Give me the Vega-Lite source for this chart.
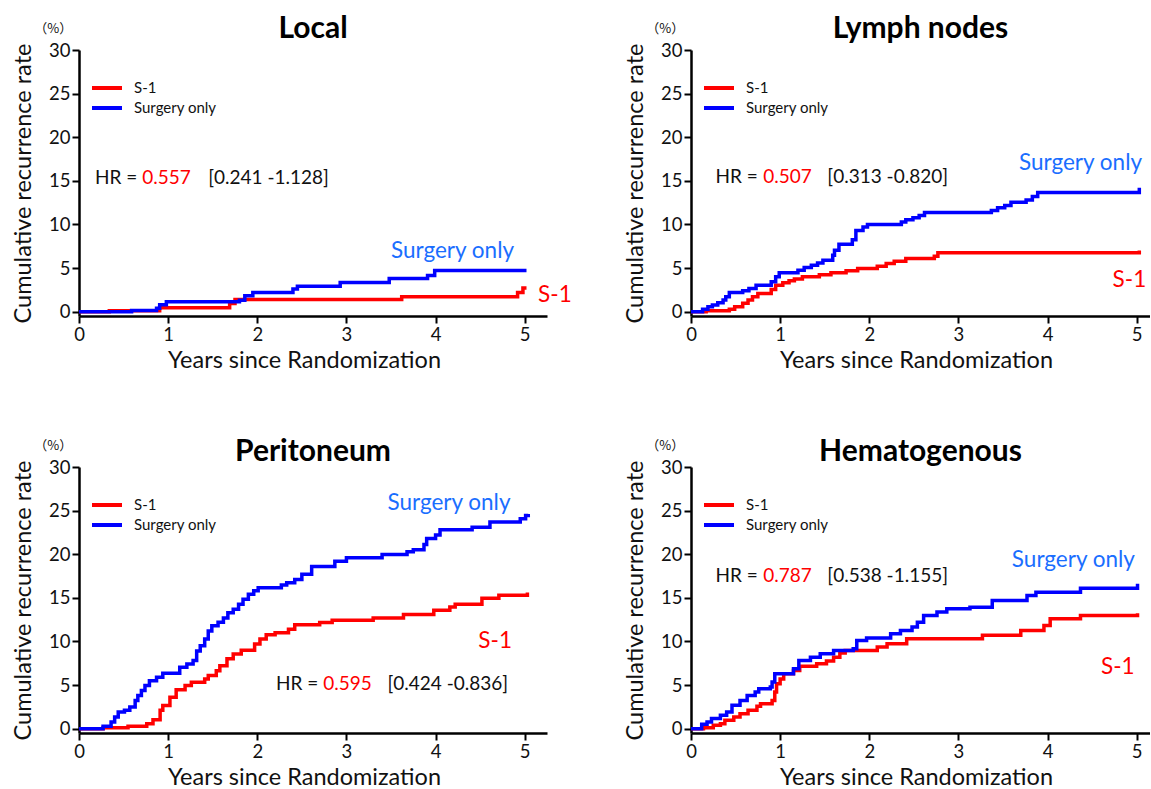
{
  "$schema": "https://vega.github.io/schema/vega-lite/v6.json",
  "background": "white",
  "padding": {"left": 11, "top": 14, "right": 0, "bottom": 0},
  "bounds": "flush",
  "columns": 2,
  "spacing": {"row": 151, "column": 144},
  "resolve": {"scale": {"color": "shared"}, "legend": {"color": "independent"}},
  "datasets": {
    "local": [
      {"g": "S-1", "t": 0, "r": 0}, {"g": "S-1", "t": 0.34, "r": 0.1}, {"g": "S-1", "t": 0.905, "r": 0.46}, {"g": "S-1", "t": 1.69, "r": 0.93}, {"g": "S-1", "t": 1.75, "r": 1.4}, {"g": "S-1", "t": 3.62, "r": 1.7}, {"g": "S-1", "t": 4.92, "r": 2.2}, {"g": "S-1", "t": 4.98, "r": 2.7}, {"g": "S-1", "t": 5.02, "r": 2.7},
      {"g": "Surgery only", "t": 0, "r": 0}, {"g": "Surgery only", "t": 0.59, "r": 0.12}, {"g": "Surgery only", "t": 0.87, "r": 0.4}, {"g": "Surgery only", "t": 0.905, "r": 0.78}, {"g": "Surgery only", "t": 0.98, "r": 1.12}, {"g": "Surgery only", "t": 1.8, "r": 1.3}, {"g": "Surgery only", "t": 1.86, "r": 1.82}, {"g": "Surgery only", "t": 1.95, "r": 2.2}, {"g": "Surgery only", "t": 2.4, "r": 2.6}, {"g": "Surgery only", "t": 2.45, "r": 2.9}, {"g": "Surgery only", "t": 2.93, "r": 3.33}, {"g": "Surgery only", "t": 3.48, "r": 3.8}, {"g": "Surgery only", "t": 3.91, "r": 4.15}, {"g": "Surgery only", "t": 3.99, "r": 4.73}, {"g": "Surgery only", "t": 5.02, "r": 4.73}
    ],
    "lymph": [
      {"g": "S-1", "t": 0, "r": 0}, {"g": "S-1", "t": 0.17, "r": 0.1}, {"g": "S-1", "t": 0.43, "r": 0.27}, {"g": "S-1", "t": 0.49, "r": 0.57}, {"g": "S-1", "t": 0.58, "r": 0.95}, {"g": "S-1", "t": 0.64, "r": 1.33}, {"g": "S-1", "t": 0.69, "r": 1.71}, {"g": "S-1", "t": 0.75, "r": 2.09}, {"g": "S-1", "t": 0.9, "r": 2.55}, {"g": "S-1", "t": 0.95, "r": 3.04}, {"g": "S-1", "t": 1.03, "r": 3.3}, {"g": "S-1", "t": 1.1, "r": 3.54}, {"g": "S-1", "t": 1.16, "r": 3.73}, {"g": "S-1", "t": 1.25, "r": 4.0}, {"g": "S-1", "t": 1.44, "r": 4.22}, {"g": "S-1", "t": 1.57, "r": 4.45}, {"g": "S-1", "t": 1.74, "r": 4.68}, {"g": "S-1", "t": 1.87, "r": 4.94}, {"g": "S-1", "t": 2.09, "r": 5.2}, {"g": "S-1", "t": 2.19, "r": 5.51}, {"g": "S-1", "t": 2.28, "r": 5.78}, {"g": "S-1", "t": 2.41, "r": 6.08}, {"g": "S-1", "t": 2.73, "r": 6.35}, {"g": "S-1", "t": 2.77, "r": 6.75}, {"g": "S-1", "t": 5.02, "r": 6.75}, {"g": "S-1", "t": 5.03, "r": 7.0},
      {"g": "Surgery only", "t": 0, "r": 0}, {"g": "Surgery only", "t": 0.13, "r": 0.27}, {"g": "Surgery only", "t": 0.19, "r": 0.57}, {"g": "Surgery only", "t": 0.24, "r": 0.76}, {"g": "Surgery only", "t": 0.3, "r": 1.03}, {"g": "Surgery only", "t": 0.36, "r": 1.33}, {"g": "Surgery only", "t": 0.39, "r": 1.71}, {"g": "Surgery only", "t": 0.43, "r": 2.2}, {"g": "Surgery only", "t": 0.58, "r": 2.4}, {"g": "Surgery only", "t": 0.65, "r": 2.66}, {"g": "Surgery only", "t": 0.73, "r": 3.04}, {"g": "Surgery only", "t": 0.9, "r": 3.42}, {"g": "Surgery only", "t": 0.95, "r": 4.0}, {"g": "Surgery only", "t": 0.99, "r": 4.45}, {"g": "Surgery only", "t": 1.2, "r": 4.75}, {"g": "Surgery only", "t": 1.27, "r": 5.06}, {"g": "Surgery only", "t": 1.35, "r": 5.32}, {"g": "Surgery only", "t": 1.42, "r": 5.59}, {"g": "Surgery only", "t": 1.48, "r": 5.89}, {"g": "Surgery only", "t": 1.59, "r": 6.46}, {"g": "Surgery only", "t": 1.61, "r": 7.03}, {"g": "Surgery only", "t": 1.66, "r": 7.72}, {"g": "Surgery only", "t": 1.81, "r": 8.25}, {"g": "Surgery only", "t": 1.85, "r": 9.3}, {"g": "Surgery only", "t": 1.93, "r": 9.7}, {"g": "Surgery only", "t": 1.98, "r": 10.0}, {"g": "Surgery only", "t": 2.36, "r": 10.27}, {"g": "Surgery only", "t": 2.41, "r": 10.53}, {"g": "Surgery only", "t": 2.49, "r": 10.76}, {"g": "Surgery only", "t": 2.56, "r": 11.03}, {"g": "Surgery only", "t": 2.62, "r": 11.37}, {"g": "Surgery only", "t": 3.37, "r": 11.6}, {"g": "Surgery only", "t": 3.44, "r": 11.9}, {"g": "Surgery only", "t": 3.52, "r": 12.17}, {"g": "Surgery only", "t": 3.59, "r": 12.55}, {"g": "Surgery only", "t": 3.76, "r": 12.8}, {"g": "Surgery only", "t": 3.83, "r": 13.2}, {"g": "Surgery only", "t": 3.89, "r": 13.65}, {"g": "Surgery only", "t": 5.02, "r": 13.65}, {"g": "Surgery only", "t": 5.03, "r": 14.2}
    ],
    "perit": [
      {"g": "S-1", "t": 0, "r": 0}, {"g": "S-1", "t": 0.27, "r": 0.1}, {"g": "S-1", "t": 0.55, "r": 0.27}, {"g": "S-1", "t": 0.76, "r": 0.57}, {"g": "S-1", "t": 0.83, "r": 1.03}, {"g": "S-1", "t": 0.91, "r": 2.1}, {"g": "S-1", "t": 0.94, "r": 2.66}, {"g": "S-1", "t": 1.02, "r": 3.6}, {"g": "S-1", "t": 1.09, "r": 4.45}, {"g": "S-1", "t": 1.19, "r": 4.94}, {"g": "S-1", "t": 1.26, "r": 5.32}, {"g": "S-1", "t": 1.41, "r": 5.7}, {"g": "S-1", "t": 1.45, "r": 6.08}, {"g": "S-1", "t": 1.54, "r": 6.65}, {"g": "S-1", "t": 1.58, "r": 7.2}, {"g": "S-1", "t": 1.66, "r": 8.0}, {"g": "S-1", "t": 1.73, "r": 8.55}, {"g": "S-1", "t": 1.82, "r": 9.0}, {"g": "S-1", "t": 1.97, "r": 9.7}, {"g": "S-1", "t": 2.03, "r": 10.27}, {"g": "S-1", "t": 2.1, "r": 10.76}, {"g": "S-1", "t": 2.2, "r": 11.0}, {"g": "S-1", "t": 2.35, "r": 11.4}, {"g": "S-1", "t": 2.42, "r": 11.9}, {"g": "S-1", "t": 2.7, "r": 12.17}, {"g": "S-1", "t": 2.84, "r": 12.43}, {"g": "S-1", "t": 3.3, "r": 12.7}, {"g": "S-1", "t": 3.64, "r": 13.1}, {"g": "S-1", "t": 3.98, "r": 13.57}, {"g": "S-1", "t": 4.16, "r": 13.95}, {"g": "S-1", "t": 4.22, "r": 14.26}, {"g": "S-1", "t": 4.52, "r": 14.94}, {"g": "S-1", "t": 4.71, "r": 15.3}, {"g": "S-1", "t": 5.03, "r": 15.6},
      {"g": "Surgery only", "t": 0, "r": 0}, {"g": "Surgery only", "t": 0.27, "r": 0.27}, {"g": "Surgery only", "t": 0.36, "r": 0.76}, {"g": "Surgery only", "t": 0.4, "r": 1.33}, {"g": "Surgery only", "t": 0.44, "r": 1.9}, {"g": "Surgery only", "t": 0.51, "r": 2.1}, {"g": "Surgery only", "t": 0.57, "r": 2.47}, {"g": "Surgery only", "t": 0.63, "r": 3.23}, {"g": "Surgery only", "t": 0.66, "r": 3.8}, {"g": "Surgery only", "t": 0.7, "r": 4.37}, {"g": "Surgery only", "t": 0.74, "r": 4.94}, {"g": "Surgery only", "t": 0.79, "r": 5.5}, {"g": "Surgery only", "t": 0.87, "r": 5.9}, {"g": "Surgery only", "t": 0.94, "r": 6.35}, {"g": "Surgery only", "t": 1.13, "r": 7.03}, {"g": "Surgery only", "t": 1.21, "r": 7.4}, {"g": "Surgery only", "t": 1.28, "r": 7.8}, {"g": "Surgery only", "t": 1.32, "r": 8.9}, {"g": "Surgery only", "t": 1.36, "r": 9.5}, {"g": "Surgery only", "t": 1.41, "r": 10.27}, {"g": "Surgery only", "t": 1.45, "r": 11.2}, {"g": "Surgery only", "t": 1.49, "r": 11.8}, {"g": "Surgery only", "t": 1.56, "r": 12.2}, {"g": "Surgery only", "t": 1.62, "r": 12.7}, {"g": "Surgery only", "t": 1.67, "r": 13.3}, {"g": "Surgery only", "t": 1.73, "r": 13.7}, {"g": "Surgery only", "t": 1.79, "r": 14.26}, {"g": "Surgery only", "t": 1.84, "r": 14.83}, {"g": "Surgery only", "t": 1.9, "r": 15.4}, {"g": "Surgery only", "t": 1.96, "r": 15.8}, {"g": "Surgery only", "t": 2.01, "r": 16.16}, {"g": "Surgery only", "t": 2.27, "r": 16.46}, {"g": "Surgery only", "t": 2.33, "r": 16.73}, {"g": "Surgery only", "t": 2.42, "r": 17.1}, {"g": "Surgery only", "t": 2.5, "r": 17.7}, {"g": "Surgery only", "t": 2.61, "r": 18.6}, {"g": "Surgery only", "t": 2.87, "r": 19.2}, {"g": "Surgery only", "t": 3.0, "r": 19.6}, {"g": "Surgery only", "t": 3.4, "r": 19.96}, {"g": "Surgery only", "t": 3.68, "r": 20.27}, {"g": "Surgery only", "t": 3.75, "r": 20.5}, {"g": "Surgery only", "t": 3.87, "r": 21.1}, {"g": "Surgery only", "t": 3.9, "r": 21.8}, {"g": "Surgery only", "t": 4.0, "r": 22.2}, {"g": "Surgery only", "t": 4.05, "r": 22.8}, {"g": "Surgery only", "t": 4.41, "r": 23.1}, {"g": "Surgery only", "t": 4.61, "r": 23.7}, {"g": "Surgery only", "t": 4.95, "r": 24.07}, {"g": "Surgery only", "t": 5.01, "r": 24.45}, {"g": "Surgery only", "t": 5.04, "r": 24.6}
    ],
    "hemat": [
      {"g": "S-1", "t": 0, "r": 0}, {"g": "S-1", "t": 0.14, "r": 0.1}, {"g": "S-1", "t": 0.25, "r": 0.38}, {"g": "S-1", "t": 0.33, "r": 0.57}, {"g": "S-1", "t": 0.38, "r": 0.95}, {"g": "S-1", "t": 0.48, "r": 1.34}, {"g": "S-1", "t": 0.55, "r": 1.72}, {"g": "S-1", "t": 0.64, "r": 2.1}, {"g": "S-1", "t": 0.74, "r": 2.56}, {"g": "S-1", "t": 0.78, "r": 2.86}, {"g": "S-1", "t": 0.91, "r": 3.24}, {"g": "S-1", "t": 0.94, "r": 4.2}, {"g": "S-1", "t": 0.96, "r": 5.15}, {"g": "S-1", "t": 1.0, "r": 5.7}, {"g": "S-1", "t": 1.04, "r": 6.3}, {"g": "S-1", "t": 1.15, "r": 6.68}, {"g": "S-1", "t": 1.22, "r": 7.14}, {"g": "S-1", "t": 1.41, "r": 7.44}, {"g": "S-1", "t": 1.52, "r": 7.75}, {"g": "S-1", "t": 1.6, "r": 8.2}, {"g": "S-1", "t": 1.67, "r": 8.66}, {"g": "S-1", "t": 1.73, "r": 8.97}, {"g": "S-1", "t": 2.09, "r": 9.35}, {"g": "S-1", "t": 2.2, "r": 9.73}, {"g": "S-1", "t": 2.42, "r": 10.3}, {"g": "S-1", "t": 3.27, "r": 10.7}, {"g": "S-1", "t": 3.7, "r": 11.26}, {"g": "S-1", "t": 3.96, "r": 11.83}, {"g": "S-1", "t": 4.03, "r": 12.6}, {"g": "S-1", "t": 4.37, "r": 12.98}, {"g": "S-1", "t": 5.0, "r": 12.98}, {"g": "S-1", "t": 5.01, "r": 13.24},
      {"g": "Surgery only", "t": 0, "r": 0}, {"g": "Surgery only", "t": 0.12, "r": 0.5}, {"g": "Surgery only", "t": 0.18, "r": 0.76}, {"g": "Surgery only", "t": 0.23, "r": 1.15}, {"g": "Surgery only", "t": 0.33, "r": 1.53}, {"g": "Surgery only", "t": 0.4, "r": 1.9}, {"g": "Surgery only", "t": 0.46, "r": 2.67}, {"g": "Surgery only", "t": 0.55, "r": 3.24}, {"g": "Surgery only", "t": 0.63, "r": 3.8}, {"g": "Surgery only", "t": 0.72, "r": 4.2}, {"g": "Surgery only", "t": 0.76, "r": 4.58}, {"g": "Surgery only", "t": 0.89, "r": 4.77}, {"g": "Surgery only", "t": 0.91, "r": 5.34}, {"g": "Surgery only", "t": 0.94, "r": 6.3}, {"g": "Surgery only", "t": 1.15, "r": 6.87}, {"g": "Surgery only", "t": 1.21, "r": 7.82}, {"g": "Surgery only", "t": 1.34, "r": 8.2}, {"g": "Surgery only", "t": 1.45, "r": 8.6}, {"g": "Surgery only", "t": 1.6, "r": 8.97}, {"g": "Surgery only", "t": 1.82, "r": 9.16}, {"g": "Surgery only", "t": 1.86, "r": 10.1}, {"g": "Surgery only", "t": 1.97, "r": 10.4}, {"g": "Surgery only", "t": 2.24, "r": 10.88}, {"g": "Surgery only", "t": 2.35, "r": 11.26}, {"g": "Surgery only", "t": 2.48, "r": 11.64}, {"g": "Surgery only", "t": 2.54, "r": 12.2}, {"g": "Surgery only", "t": 2.61, "r": 12.98}, {"g": "Surgery only", "t": 2.76, "r": 13.36}, {"g": "Surgery only", "t": 2.87, "r": 13.74}, {"g": "Surgery only", "t": 3.13, "r": 13.93}, {"g": "Surgery only", "t": 3.38, "r": 14.7}, {"g": "Surgery only", "t": 3.77, "r": 15.27}, {"g": "Surgery only", "t": 3.87, "r": 15.65}, {"g": "Surgery only", "t": 4.37, "r": 16.1}, {"g": "Surgery only", "t": 5.0, "r": 16.1}, {"g": "Surgery only", "t": 5.01, "r": 16.6}
    ]
  },
  "concat": [
    {
      "title": {"text": "Local"},
      "width": 468, "height": 266,
      "encoding": {
        "x": {"field": "t", "type": "quantitative", "scale": {"domain": [0, 5.25], "nice": false, "zero": false}, "axis": {"values": [0, 1, 2, 3, 4, 5], "title": "Years since Randomization", "labelFlush": false, "titlePadding": 5, "titleX": 225}},
        "y": {"field": "r", "type": "quantitative", "scale": {"domain": [-0.5, 30], "nice": false, "zero": false}, "axis": {"values": [0, 5, 10, 15, 20, 25, 30], "title": "Cumulative recurrence rate", "titlePadding": 13}}
      },
      "layer": [
        {"data": {"name": "local"}, "mark": {"type": "line", "interpolate": "step-after", "strokeWidth": 3.5},
         "encoding": {"color": {"field": "g", "type": "nominal", "scale": {"domain": ["S-1", "Surgery only"], "range": ["#FF0000", "#0000FF"]}, "legend": {"orient": "none", "legendX": 16, "legendY": 26, "title": null, "symbolType": "M-1.5,0H1.5", "symbolSize": 400, "symbolStrokeWidth": 4, "labelFont": "Lato", "labelFontSize": 15, "labelColor": "#111", "labelOffset": 15, "rowPadding": -3, "padding": 0}}}},
        {"data": {"values": [{"t": 0.18, "r": 15.3, "label": "HR ="}, {"t": 1.45, "r": 15.3, "label": "[0.241 -1.128]"}]}, "mark": {"type": "text", "align": "left", "baseline": "middle", "font": "Lato", "fontSize": 19, "color": "#111"}, "encoding": {"text": {"field": "label"}}},
        {"data": {"values": [{"t": 0.71, "r": 15.3, "label": "0.557"}]}, "mark": {"type": "text", "align": "left", "baseline": "middle", "font": "Lato", "fontSize": 19, "color": "#FF0000"}, "encoding": {"text": {"field": "label"}}},
        {"data": {"values": [{"t": 5.15, "r": 1.95, "label": "S-1"}]}, "mark": {"type": "text", "align": "left", "baseline": "middle", "font": "Lato", "fontSize": 22.5, "color": "#FF0000"}, "encoding": {"text": {"field": "label"}}},
        {"data": {"values": [{"t": 3.5, "r": 6.9, "label": "Surgery only"}]}, "mark": {"type": "text", "align": "left", "baseline": "middle", "font": "Lato", "fontSize": 22.5, "color": "#1A6EFF"}, "encoding": {"text": {"field": "label"}}},
        {"data": {"values": [{"t": -0.29, "r": 32.4, "label": "（%）"}]}, "mark": {"type": "text", "align": "center", "baseline": "middle", "font": "Noto Sans CJK JP", "fontSize": 13, "color": "#111"}, "encoding": {"text": {"field": "label"}}}
      ]
    },
    {
      "title": {"text": "Lymph nodes"},
      "width": 459, "height": 266,
      "encoding": {
        "x": {"field": "t", "type": "quantitative", "scale": {"domain": [0, 5.15], "nice": false, "zero": false}, "axis": {"values": [0, 1, 2, 3, 4, 5], "title": "Years since Randomization", "labelFlush": false, "titlePadding": 5, "titleX": 225}},
        "y": {"field": "r", "type": "quantitative", "scale": {"domain": [-0.5, 30], "nice": false, "zero": false}, "axis": {"values": [0, 5, 10, 15, 20, 25, 30], "title": "Cumulative recurrence rate", "titlePadding": 13}}
      },
      "layer": [
        {"data": {"name": "lymph"}, "mark": {"type": "line", "interpolate": "step-after", "strokeWidth": 3.5},
         "encoding": {"color": {"field": "g", "type": "nominal", "scale": {"domain": ["S-1", "Surgery only"], "range": ["#FF0000", "#0000FF"]}, "legend": {"orient": "none", "legendX": 16, "legendY": 26, "title": null, "symbolType": "M-1.5,0H1.5", "symbolSize": 400, "symbolStrokeWidth": 4, "labelFont": "Lato", "labelFontSize": 15, "labelColor": "#111", "labelOffset": 15, "rowPadding": -3, "padding": 0}}}},
        {"data": {"values": [{"t": 0.275, "r": 15.4, "label": "HR ="}, {"t": 1.53, "r": 15.4, "label": "[0.313 -0.820]"}]}, "mark": {"type": "text", "align": "left", "baseline": "middle", "font": "Lato", "fontSize": 19, "color": "#111"}, "encoding": {"text": {"field": "label"}}},
        {"data": {"values": [{"t": 0.81, "r": 15.4, "label": "0.507"}]}, "mark": {"type": "text", "align": "left", "baseline": "middle", "font": "Lato", "fontSize": 19, "color": "#FF0000"}, "encoding": {"text": {"field": "label"}}},
        {"data": {"values": [{"t": 4.73, "r": 3.6, "label": "S-1"}]}, "mark": {"type": "text", "align": "left", "baseline": "middle", "font": "Lato", "fontSize": 22.5, "color": "#FF0000"}, "encoding": {"text": {"field": "label"}}},
        {"data": {"values": [{"t": 3.68, "r": 17.0, "label": "Surgery only"}]}, "mark": {"type": "text", "align": "left", "baseline": "middle", "font": "Lato", "fontSize": 22.5, "color": "#1A6EFF"}, "encoding": {"text": {"field": "label"}}},
        {"data": {"values": [{"t": -0.29, "r": 32.4, "label": "（%）"}]}, "mark": {"type": "text", "align": "center", "baseline": "middle", "font": "Noto Sans CJK JP", "fontSize": 13, "color": "#111"}, "encoding": {"text": {"field": "label"}}}
      ]
    },
    {
      "title": {"text": "Peritoneum", "offset": -27},
      "width": 468, "height": 266,
      "encoding": {
        "x": {"field": "t", "type": "quantitative", "scale": {"domain": [0, 5.25], "nice": false, "zero": false}, "axis": {"values": [0, 1, 2, 3, 4, 5], "title": "Years since Randomization", "labelFlush": false, "titlePadding": 5, "titleX": 225}},
        "y": {"field": "r", "type": "quantitative", "scale": {"domain": [-0.5, 30], "nice": false, "zero": false}, "axis": {"values": [0, 5, 10, 15, 20, 25, 30], "title": "Cumulative recurrence rate", "titlePadding": 13}}
      },
      "layer": [
        {"data": {"name": "perit"}, "mark": {"type": "line", "interpolate": "step-after", "strokeWidth": 3.5},
         "encoding": {"color": {"field": "g", "type": "nominal", "scale": {"domain": ["S-1", "Surgery only"], "range": ["#FF0000", "#0000FF"]}, "legend": {"orient": "none", "legendX": 16, "legendY": 26, "title": null, "symbolType": "M-1.5,0H1.5", "symbolSize": 400, "symbolStrokeWidth": 4, "labelFont": "Lato", "labelFontSize": 15, "labelColor": "#111", "labelOffset": 15, "rowPadding": -3, "padding": 0}}}},
        {"data": {"values": [{"t": 2.21, "r": 5.15, "label": "HR ="}, {"t": 3.46, "r": 5.15, "label": "[0.424 -0.836]"}]}, "mark": {"type": "text", "align": "left", "baseline": "middle", "font": "Lato", "fontSize": 19, "color": "#111"}, "encoding": {"text": {"field": "label"}}},
        {"data": {"values": [{"t": 2.74, "r": 5.15, "label": "0.595"}]}, "mark": {"type": "text", "align": "left", "baseline": "middle", "font": "Lato", "fontSize": 19, "color": "#FF0000"}, "encoding": {"text": {"field": "label"}}},
        {"data": {"values": [{"t": 4.48, "r": 10.0, "label": "S-1"}]}, "mark": {"type": "text", "align": "left", "baseline": "middle", "font": "Lato", "fontSize": 22.5, "color": "#FF0000"}, "encoding": {"text": {"field": "label"}}},
        {"data": {"values": [{"t": 3.46, "r": 25.9, "label": "Surgery only"}]}, "mark": {"type": "text", "align": "left", "baseline": "middle", "font": "Lato", "fontSize": 22.5, "color": "#1A6EFF"}, "encoding": {"text": {"field": "label"}}},
        {"data": {"values": [{"t": -0.29, "r": 32.4, "label": "（%）"}]}, "mark": {"type": "text", "align": "center", "baseline": "middle", "font": "Noto Sans CJK JP", "fontSize": 13, "color": "#111"}, "encoding": {"text": {"field": "label"}}}
      ]
    },
    {
      "title": {"text": "Hematogenous", "offset": -27},
      "width": 459, "height": 266,
      "encoding": {
        "x": {"field": "t", "type": "quantitative", "scale": {"domain": [0, 5.15], "nice": false, "zero": false}, "axis": {"values": [0, 1, 2, 3, 4, 5], "title": "Years since Randomization", "labelFlush": false, "titlePadding": 5, "titleX": 225}},
        "y": {"field": "r", "type": "quantitative", "scale": {"domain": [-0.5, 30], "nice": false, "zero": false}, "axis": {"values": [0, 5, 10, 15, 20, 25, 30], "title": "Cumulative recurrence rate", "titlePadding": 13}}
      },
      "layer": [
        {"data": {"name": "hemat"}, "mark": {"type": "line", "interpolate": "step-after", "strokeWidth": 3.5},
         "encoding": {"color": {"field": "g", "type": "nominal", "scale": {"domain": ["S-1", "Surgery only"], "range": ["#FF0000", "#0000FF"]}, "legend": {"orient": "none", "legendX": 16, "legendY": 26, "title": null, "symbolType": "M-1.5,0H1.5", "symbolSize": 400, "symbolStrokeWidth": 4, "labelFont": "Lato", "labelFontSize": 15, "labelColor": "#111", "labelOffset": 15, "rowPadding": -3, "padding": 0}}}},
        {"data": {"values": [{"t": 0.275, "r": 17.5, "label": "HR ="}, {"t": 1.53, "r": 17.5, "label": "[0.538 -1.155]"}]}, "mark": {"type": "text", "align": "left", "baseline": "middle", "font": "Lato", "fontSize": 19, "color": "#111"}, "encoding": {"text": {"field": "label"}}},
        {"data": {"values": [{"t": 0.81, "r": 17.5, "label": "0.787"}]}, "mark": {"type": "text", "align": "left", "baseline": "middle", "font": "Lato", "fontSize": 19, "color": "#FF0000"}, "encoding": {"text": {"field": "label"}}},
        {"data": {"values": [{"t": 4.6, "r": 7.1, "label": "S-1"}]}, "mark": {"type": "text", "align": "left", "baseline": "middle", "font": "Lato", "fontSize": 22.5, "color": "#FF0000"}, "encoding": {"text": {"field": "label"}}},
        {"data": {"values": [{"t": 3.6, "r": 19.3, "label": "Surgery only"}]}, "mark": {"type": "text", "align": "left", "baseline": "middle", "font": "Lato", "fontSize": 22.5, "color": "#1A6EFF"}, "encoding": {"text": {"field": "label"}}},
        {"data": {"values": [{"t": -0.29, "r": 32.4, "label": "（%）"}]}, "mark": {"type": "text", "align": "center", "baseline": "middle", "font": "Noto Sans CJK JP", "fontSize": 13, "color": "#111"}, "encoding": {"text": {"field": "label"}}}
      ]
    }
  ],
  "config": {
    "view": {"stroke": null},
    "font": "Lato",
    "title": {"font": "Lato", "fontSize": 30, "fontWeight": "bold", "color": "#000", "anchor": "middle", "offset": -21},
    "axis": {"domainColor": "#000", "domainWidth": 2.5, "tickColor": "#000", "tickWidth": 2, "tickSize": 7, "labelFont": "Lato", "labelFontSize": 18.5, "labelColor": "#111", "labelPadding": 2, "titleFont": "Lato", "titleFontSize": 23.5, "titleFontWeight": "normal", "titleColor": "#111", "grid": false}
  }
}
